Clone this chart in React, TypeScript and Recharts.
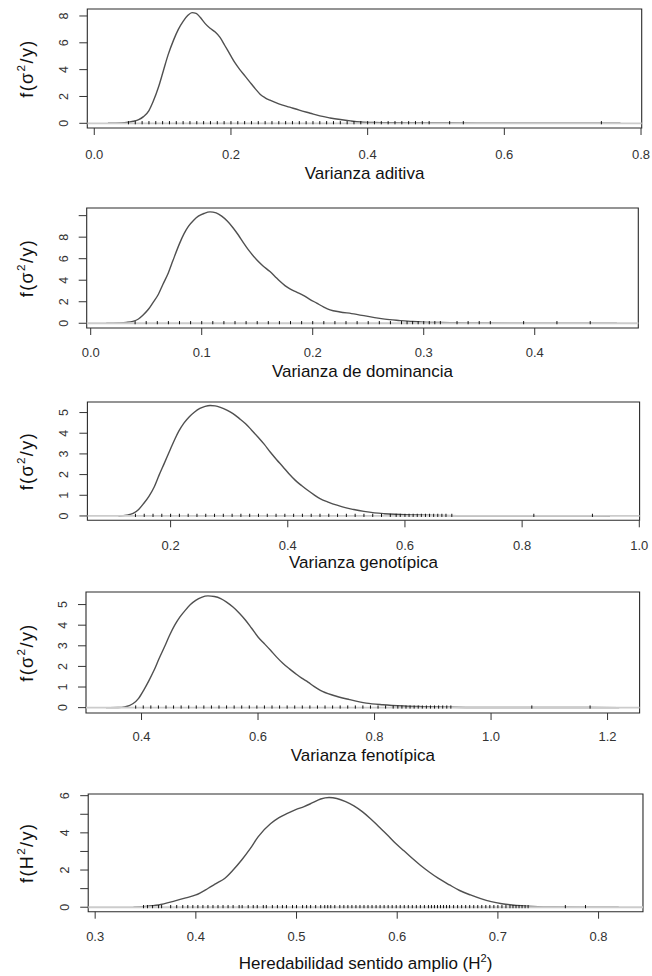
import { ComposedChart, Line, Scatter, XAxis, YAxis, ReferenceLine, ReferenceArea } from 'recharts';

const FONT = '"Liberation Sans", Arial, Helvetica, sans-serif';

// density curves, [x, f(x)]
const aditivaCurve = [
  [0.02, 0], [0.04, 0.02], [0.05, 0.08], [0.057, 0.15], [0.065, 0.27], [0.072, 0.5], [0.08, 0.95],
  [0.086, 1.6], [0.094, 2.7], [0.101, 3.9], [0.108, 5.1], [0.116, 6.2], [0.123, 7.0], [0.13, 7.6],
  [0.137, 8.05], [0.143, 8.25], [0.149, 8.2], [0.155, 7.9], [0.162, 7.45], [0.169, 7.1], [0.177, 6.8],
  [0.184, 6.4], [0.191, 5.8], [0.199, 5.1], [0.206, 4.5], [0.213, 4.0], [0.221, 3.5], [0.228, 3.05],
  [0.236, 2.55], [0.243, 2.15], [0.25, 1.9], [0.257, 1.72], [0.27, 1.45], [0.286, 1.2], [0.3, 0.98],
  [0.316, 0.75], [0.33, 0.55], [0.345, 0.4], [0.36, 0.28], [0.375, 0.18], [0.39, 0.1], [0.41, 0.06],
  [0.44, 0.04], [0.48, 0.03], [0.52, 0.02], [0.56, 0.01], [0.62, 0.005], [0.7, 0.005], [0.74, 0.01], [0.77, 0],
];

const dominanciaCurve = [
  [0.014, 0], [0.025, 0.03], [0.032, 0.08], [0.038, 0.18], [0.043, 0.4], [0.047, 0.75], [0.052, 1.3],
  [0.056, 1.9], [0.061, 2.7], [0.065, 3.6], [0.07, 4.7], [0.074, 5.8], [0.08, 7.4], [0.084, 8.3],
  [0.088, 9.0], [0.093, 9.6], [0.097, 9.95], [0.102, 10.2], [0.1075, 10.35], [0.113, 10.25], [0.118, 9.95],
  [0.123, 9.5], [0.128, 8.9], [0.133, 8.2], [0.1375, 7.5], [0.143, 6.7], [0.1495, 5.9], [0.155, 5.35],
  [0.1615, 4.8], [0.166, 4.35], [0.1705, 3.9], [0.175, 3.5], [0.1795, 3.2], [0.1855, 2.9], [0.1915, 2.6],
  [0.197, 2.25], [0.2036, 1.87], [0.21, 1.5], [0.2156, 1.24], [0.2246, 1.05], [0.235, 0.9], [0.2546, 0.55],
  [0.265, 0.38], [0.2787, 0.25], [0.29, 0.16], [0.3, 0.11], [0.315, 0.07], [0.33, 0.05], [0.35, 0.03],
  [0.38, 0.015], [0.42, 0.01], [0.45, 0.008], [0.474, 0],
];

const genotipicaCurve = [
  [0.111, 0], [0.125, 0.04], [0.136, 0.12], [0.145, 0.3], [0.154, 0.6], [0.163, 0.95], [0.172, 1.4],
  [0.18, 1.95], [0.189, 2.53], [0.2, 3.25], [0.207, 3.7], [0.214, 4.1], [0.223, 4.5], [0.232, 4.8],
  [0.241, 5.03], [0.25, 5.2], [0.259, 5.3], [0.2676, 5.34], [0.276, 5.32], [0.285, 5.25], [0.296, 5.12],
  [0.3065, 4.95], [0.317, 4.72], [0.328, 4.46], [0.338, 4.16], [0.349, 3.82], [0.36, 3.46], [0.37, 3.09],
  [0.381, 2.72], [0.392, 2.37], [0.402, 2.04], [0.413, 1.72], [0.424, 1.46], [0.434, 1.24], [0.445, 1.02],
  [0.455, 0.84], [0.47, 0.66], [0.484, 0.52], [0.498, 0.4], [0.5125, 0.31], [0.53, 0.22], [0.548, 0.15],
  [0.565, 0.11], [0.583, 0.08], [0.6, 0.06], [0.619, 0.05], [0.65, 0.03], [0.69, 0.01], [0.75, 0.003],
  [0.82, 0.005], [0.88, 0.003], [0.95, 0],
];

const fenotipicaCurve = [
  [0.339, 0], [0.36, 0.01], [0.371, 0.04], [0.379, 0.1], [0.3857, 0.2], [0.395, 0.45], [0.4036, 0.84],
  [0.4125, 1.3], [0.4215, 1.81], [0.43, 2.37], [0.4393, 2.94], [0.448, 3.5], [0.457, 4.0], [0.466, 4.4],
  [0.475, 4.72], [0.484, 5.0], [0.493, 5.2], [0.503, 5.35], [0.514, 5.42], [0.525, 5.39], [0.536, 5.29],
  [0.546, 5.12], [0.557, 4.88], [0.568, 4.58], [0.5786, 4.24], [0.589, 3.85], [0.6, 3.43], [0.611, 3.1],
  [0.6215, 2.78], [0.632, 2.45], [0.643, 2.14], [0.654, 1.88], [0.6644, 1.65], [0.675, 1.43], [0.6858, 1.24],
  [0.696, 1.03], [0.707, 0.84], [0.7286, 0.6], [0.757, 0.39], [0.7858, 0.22], [0.8144, 0.14], [0.85, 0.08],
  [0.88, 0.05], [0.907, 0.03], [0.957, 0.01], [1.02, 0.005], [1.1, 0.004], [1.17, 0.004], [1.22, 0],
];

const heredabilidadCurve = [
  [0.338, 0], [0.35, 0.04], [0.3628, 0.12], [0.3793, 0.34], [0.39, 0.5], [0.4, 0.66], [0.4123, 1.02],
  [0.42, 1.27], [0.4289, 1.56], [0.437, 2.0], [0.4455, 2.54], [0.454, 3.15], [0.462, 3.8], [0.4744, 4.5],
  [0.4826, 4.82], [0.4909, 5.05], [0.4992, 5.25], [0.5075, 5.41], [0.516, 5.62], [0.524, 5.82], [0.5323, 5.9],
  [0.54, 5.85], [0.5488, 5.68], [0.557, 5.45], [0.5653, 5.14], [0.5735, 4.76], [0.5818, 4.33], [0.59, 3.9],
  [0.5983, 3.44], [0.607, 3.02], [0.6149, 2.63], [0.623, 2.26], [0.6314, 1.91], [0.641, 1.55], [0.652, 1.2],
  [0.662, 0.9], [0.6727, 0.66], [0.683, 0.46], [0.6934, 0.3], [0.704, 0.19], [0.714, 0.12], [0.7347, 0.04],
  [0.7554, 0.01], [0.79, 0.005], [0.82, 0],
];

// rug marks (sample values) along the bottom
const aditivaRug = [
  0.05, 0.06, 0.07, 0.08, 0.09, 0.1, 0.11, 0.12, 0.13, 0.14, 0.15, 0.16, 0.17, 0.18, 0.19, 0.2,
  0.21, 0.22, 0.23, 0.24, 0.25, 0.26, 0.27, 0.28, 0.29, 0.3, 0.31, 0.32, 0.33, 0.34, 0.35, 0.36,
  0.37, 0.38, 0.39, 0.4, 0.41, 0.42, 0.43, 0.44, 0.45, 0.46, 0.47, 0.48, 0.49, 0.52, 0.54, 0.742,
];
const dominanciaRug = [
  0.04, 0.05, 0.06, 0.07, 0.08, 0.09, 0.1, 0.11, 0.12, 0.13, 0.14, 0.15, 0.16, 0.17, 0.18, 0.19,
  0.2, 0.21, 0.22, 0.23, 0.24, 0.25, 0.26, 0.27, 0.28, 0.285, 0.29, 0.295, 0.3, 0.305, 0.31, 0.315,
  0.33, 0.34, 0.35, 0.36, 0.39, 0.42, 0.45,
];
const genotipicaRug = [
  0.14, 0.155, 0.17, 0.185, 0.2, 0.215, 0.23, 0.245, 0.26, 0.275, 0.29, 0.305, 0.32, 0.335, 0.35,
  0.365, 0.38, 0.395, 0.41, 0.425, 0.44, 0.455, 0.47, 0.485, 0.5, 0.515, 0.53, 0.545, 0.56, 0.575,
  0.585, 0.592, 0.6, 0.607, 0.614, 0.621, 0.628, 0.635, 0.642, 0.649, 0.656, 0.663, 0.67, 0.68, 0.82, 0.92,
];
const fenotipicaRug = [
  0.39, 0.403, 0.416, 0.429, 0.442, 0.455, 0.468, 0.481, 0.494, 0.507, 0.52, 0.533, 0.546, 0.559,
  0.572, 0.585, 0.598, 0.611, 0.624, 0.637, 0.65, 0.663, 0.676, 0.689, 0.702, 0.715, 0.728, 0.741,
  0.754, 0.767, 0.78, 0.793, 0.806, 0.819, 0.832, 0.84, 0.847, 0.854, 0.861, 0.868, 0.875, 0.882,
  0.889, 0.896, 0.903, 0.91, 0.917, 0.924, 0.931, 1.07, 1.17,
];
const heredabilidadRug = [
  0.348, 0.352, 0.357, 0.363, 0.366, 0.375, 0.381, 0.387, 0.392, 0.397, 0.402, 0.407, 0.412, 0.417,
  0.422, 0.427, 0.432, 0.437, 0.443, 0.446, 0.452, 0.457, 0.461, 0.467, 0.47, 0.476, 0.481, 0.486,
  0.49, 0.496, 0.5, 0.506, 0.51, 0.514, 0.519, 0.524, 0.528, 0.531, 0.534, 0.538, 0.543, 0.547, 0.551,
  0.555, 0.559, 0.563, 0.567, 0.571, 0.575, 0.579, 0.583, 0.587, 0.591, 0.595, 0.599, 0.603, 0.607,
  0.611, 0.615, 0.619, 0.623, 0.627, 0.631, 0.634, 0.637, 0.64, 0.643, 0.646, 0.649, 0.652, 0.656,
  0.66, 0.664, 0.668, 0.672, 0.676, 0.68, 0.684, 0.688, 0.692, 0.696, 0.7, 0.704, 0.708, 0.712, 0.715,
  0.718, 0.721, 0.724, 0.727, 0.73, 0.767, 0.787,
];

// axis ticks
const aditivaXTicks = [0, 0.2, 0.4, 0.6, 0.8];
const dominanciaXTicks = [0, 0.1, 0.2, 0.3, 0.4];
const genotipicaXTicks = [0.2, 0.4, 0.6, 0.8, 1.0];
const fenotipicaXTicks = [0.4, 0.6, 0.8, 1.0, 1.2];
const heredabilidadXTicks = [0.3, 0.4, 0.5, 0.6, 0.7, 0.8];

type Seg = { t: string; sup?: boolean };

const sigmaTitle: Seg[] = [{ t: 'f(σ' }, { t: '2', sup: true }, { t: '/y)' }];
const hTitle: Seg[] = [{ t: 'f(H' }, { t: '2', sup: true }, { t: '/y)' }];

function rich(segs: Seg[], size: number) {
  let up = false;
  return segs.map((s, i) => {
    let dy = 0;
    if (s.sup && !up) { dy = -size * 0.42; up = true; }
    else if (!s.sup && up) { dy = size * 0.42; up = false; }
    return (
      <tspan key={i} dy={dy} fontSize={s.sup ? size * 0.65 : size}>{s.t}</tspan>
    );
  });
}

const toPts = (c: number[][]) => c.map(([x, y]) => ({ x, y }));
const toRug = (r: number[]) => r.map((x) => ({ x, y: 0 }));

const RugTick = (props: any) => (
  <line x1={props.cx} x2={props.cx} y1={props.cy - 2.2} y2={props.cy + 1} stroke="#111" strokeWidth={1} />
);

interface PanelProps {
  curve: number[][];
  rug: number[];
  box: { l: number; r: number; t: number; b: number };
  xDomain: [number, number];
  yDomain: [number, number];
  xTicks: number[];
  yTicks: number[];
  yLabeled: number[];
  xTitle: Seg[];
  yTitle: Seg[];
  labelDy: number;
  titleDy: number;
}

const PAD = 6;
const AXIS_H = 62;

function Panel({ curve, rug, box, xDomain, yDomain, xTicks, yTicks, yLabeled, xTitle, yTitle, labelDy, titleDy }: PanelProps) {
  const plotH = box.b - box.t;
  const height = PAD + plotH + AXIS_H;
  const bottom = PAD + plotH;

  const xTick = (p: any) => (
    <text x={p.x} y={bottom + labelDy + 4.6} textAnchor="middle" fontSize={13} fill="#333" fontFamily={FONT}>
      {Number(p.payload.value).toFixed(1)}
    </text>
  );

  // R draws y labels parallel to the axis, reading upwards
  const yTick = (p: any) => {
    const v = p.payload.value;
    if (!yLabeled.includes(v)) return <g />;
    const tx = box.l - 19;
    return (
      <g transform={`translate(${tx}, ${Number(p.y)}) rotate(-90)`}>
        <text x={0} y={0} textAnchor="middle" fontSize={12.5} fill="#333" fontFamily={FONT}>
          {v}
        </text>
      </g>
    );
  };

  const xLabel = () => (
    <text x={(box.l + box.r) / 2} y={bottom + titleDy + 6} textAnchor="middle" fontSize={17} fill="#111" fontFamily={FONT}>
      {rich(xTitle, 17)}
    </text>
  );

  const yLabel = () => {
    const cy = PAD + plotH / 2;
    return (
      <text x={33} y={cy} transform={`rotate(-90 33 ${cy})`} textAnchor="middle" fontSize={18} letterSpacing={1.4} fill="#111" fontFamily={FONT}>
        {rich(yTitle, 18)}
      </text>
    );
  };

  return (
    <div style={{ position: 'absolute', left: 0, top: box.t - PAD }}>
      <ComposedChart width={652} height={height} margin={{ top: PAD, right: 652 - box.r, bottom: 0, left: 0 }}>
        <XAxis
          type="number"
          dataKey="x"
          domain={xDomain}
          allowDataOverflow
          ticks={xTicks}
          interval={0}
          axisLine={false}
          stroke="#333"
          tickSize={7}
          tickMargin={0}
          tick={xTick}
          height={AXIS_H}
          label={xLabel}
        />
        <YAxis
          type="number"
          dataKey="y"
          domain={yDomain}
          allowDataOverflow
          ticks={yTicks}
          interval={0}
          axisLine={false}
          stroke="#333"
          tickSize={8}
          tickMargin={0}
          tick={yTick}
          width={box.l}
          label={yLabel}
        />
        <ReferenceArea x1={xDomain[0]} x2={xDomain[1]} y1={yDomain[0]} y2={yDomain[1]} fill="none" fillOpacity={0} stroke="#2a2a2a" strokeWidth={1.1} />
        <Line data={toPts(curve)} dataKey="y" type="monotone" stroke="#505050" strokeWidth={1.4} dot={false} activeDot={false} isAnimationActive={false} />
        <ReferenceLine y={0} stroke="#cccccc" strokeWidth={1.8} />
        <Scatter data={toRug(rug)} shape={RugTick} isAnimationActive={false} />
      </ComposedChart>
    </div>
  );
}

export default function App() {
  return (
    <div style={{ position: 'absolute', left: 0, top: 0, width: 652, height: 976, background: '#fff' }}>
      <Panel
        curve={aditivaCurve}
        rug={aditivaRug}
        box={{ l: 87.3, r: 641.7, t: 9, b: 128 }}
        xDomain={[-0.0102, 0.801]}
        yDomain={[-0.35, 8.52]}
        xTicks={aditivaXTicks}
        yTicks={[0, 2, 4, 6, 8]}
        yLabeled={[0, 2, 4, 6, 8]}
        xTitle={[{ t: 'Varianza aditiva' }]}
        yTitle={sigmaTitle}
        labelDy={26}
        titleDy={45}
      />
      <Panel
        curve={dominanciaCurve}
        rug={dominanciaRug}
        box={{ l: 86.7, r: 638.3, t: 208, b: 328 }}
        xDomain={[-0.0036, 0.4933]}
        yDomain={[-0.44, 10.71]}
        xTicks={dominanciaXTicks}
        yTicks={[0, 2, 4, 6, 8, 10]}
        yLabeled={[0, 2, 4, 6, 8]}
        xTitle={[{ t: 'Varianza de dominancia' }]}
        yTitle={sigmaTitle}
        labelDy={24}
        titleDy={43}
      />
      <Panel
        curve={genotipicaCurve}
        rug={genotipicaRug}
        box={{ l: 87.4, r: 639.6, t: 401.7, b: 520 }}
        xDomain={[0.058, 1.0005]}
        yDomain={[-0.21, 5.51]}
        xTicks={genotipicaXTicks}
        yTicks={[0, 1, 2, 3, 4, 5]}
        yLabeled={[0, 1, 2, 3, 4, 5]}
        xTitle={[{ t: 'Varianza genotípica' }]}
        yTitle={sigmaTitle}
        labelDy={25}
        titleDy={42}
      />
      <Panel
        curve={fenotipicaCurve}
        rug={fenotipicaRug}
        box={{ l: 86, r: 639.6, t: 591.7, b: 712.7 }}
        xDomain={[0.3047, 1.255]}
        yDomain={[-0.26, 5.61]}
        xTicks={fenotipicaXTicks}
        yTicks={[0, 1, 2, 3, 4, 5]}
        yLabeled={[0, 1, 2, 3, 4, 5]}
        xTitle={[{ t: 'Varianza fenotípica' }]}
        yTitle={sigmaTitle}
        labelDy={23}
        titleDy={42}
      />
      <Panel
        curve={heredabilidadCurve}
        rug={heredabilidadRug}
        box={{ l: 88.2, r: 643, t: 794, b: 911.7 }}
        xDomain={[0.2931, 0.8441]}
        yDomain={[-0.24, 6.09]}
        xTicks={heredabilidadXTicks}
        yTicks={[0, 1, 2, 3, 4, 5, 6]}
        yLabeled={[0, 2, 4, 6]}
        xTitle={[{ t: 'Heredabilidad sentido amplio (H' }, { t: '2', sup: true }, { t: ')' }]}
        yTitle={hTitle}
        labelDy={25}
        titleDy={51}
      />
    </div>
  );
}
